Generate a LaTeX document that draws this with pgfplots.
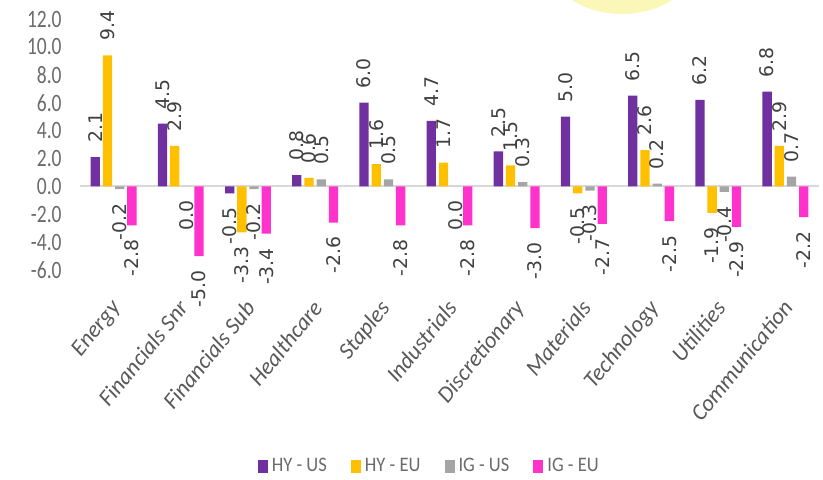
\documentclass[border=0pt]{standalone}
\usepackage{fontspec}
\usepackage{pgfplots}
\usepackage{pgfplotstable}
\pgfplotsset{compat=1.18}
\setmainfont{Carlito}
\newfontfamily\tickfont[FakeStretch=0.78]{Carlito}
\newfontfamily\legfont[FakeStretch=0.9]{Carlito}
\newfontfamily\datafont{DejaVu Sans}
\definecolor{hyus}{HTML}{7030A0}
\definecolor{hyeu}{HTML}{FFC000}
\definecolor{igus}{HTML}{A5A5A5}
\definecolor{igeu}{HTML}{FF33CC}
\definecolor{tickgrey}{HTML}{6B6B6B}
\definecolor{catgrey}{HTML}{595959}
\definecolor{datagrey}{HTML}{404040}
\definecolor{zerogrey}{HTML}{D9D9D9}
\definecolor{sunyellow}{HTML}{FBF7B8}

\pgfplotstableread{
x hyus hyeu igus igeu
0 2.1 9.4 -0.2 -2.8
1 4.5 2.9 0.0 -5.0
2 -0.5 -3.3 -0.2 -3.4
3 0.8 0.6 0.5 -2.6
4 6.0 1.6 0.5 -2.8
5 4.7 1.7 0.0 -2.8
6 2.5 1.5 0.3 -3.0
7 5.0 -0.5 -0.3 -2.7
8 6.5 2.6 0.2 -2.5
9 6.2 -1.9 -0.4 -2.9
10 6.8 2.9 0.7 -2.2
}\datatable

\begin{document}
\begin{tikzpicture}
\begin{axis}[
  scale only axis, width=369.5pt, height=125.5pt,
  xmin=-0.5, xmax=10.5, ymin=-6, ymax=12,
  axis line style={draw=none},
  major tick length=0pt,
  ytick={-6,-4,...,12},
  yticklabels={-6.0,-4.0,-2.0,0.0,2.0,4.0,6.0,8.0,10.0,12.0},
  yticklabel style={font=\tickfont\fontsize{12.5}{13}\selectfont, text=tickgrey, inner sep=0pt, xshift=-9pt},
  xtick={0,...,10},
  xticklabels={Energy,Financials Snr,Financials Sub,Healthcare,Staples,Industrials,Discretionary,Materials,Technology,Utilities,Communication},
  xticklabel style={xshift=-2pt, yshift=-14pt, rotate=51, anchor=north east, inner sep=0pt,
    font=\itshape\fontsize{11.5}{12}\selectfont, text=catgrey},
  extra y ticks={0}, extra y tick labels={},
  extra y tick style={grid=major, major grid style={draw=zerogrey, line width=1pt}},
  ybar=1.45pt, bar width=4.65pt,
  visualization depends on={rawy \as \rawy},
  nodes near coords={\pgfmathprintnumber[fixed,precision=1,zerofill,assume math mode=true]{\rawy}},
  nodes near coords style={font=\datafont\fontsize{9.4}{10}\selectfont, text=datagrey, rotate=90,
    inner xsep=7pt, inner ysep=0pt,
    anchor={\ifdim\rawy pt<0.001pt east\else west\fi}},
  legend style={at={(0.474,-0.781)}, anchor=center, draw=none, fill=none, legend columns=4,
    font=\legfont\fontsize{10.3}{12}\selectfont, text=tickgrey,
    /tikz/every even column/.append style={column sep=10pt}, inner sep=0pt},
  every axis plot post/.append style={legend image code/.code={\fill[##1] (0pt,-3.25pt) rectangle (5pt,3.25pt);}},
]
\addplot[fill=hyus, draw=none] table[x=x,y=hyus]{\datatable};
\addplot[fill=hyeu, draw=none] table[x=x,y=hyeu]{\datatable};
\addplot[fill=igus, draw=none] table[x=x,y=igus]{\datatable};
\addplot[fill=igeu, draw=none] table[x=x,y=igeu]{\datatable};
\legend{HY - US, HY - EU, IG - US, IG - EU}
\end{axis}
\fill[sunyellow] (271pt,153pt) ellipse (36pt and 25pt);
\pgfresetboundingbox
\useasboundingbox (-40pt,-105pt) rectangle (371.5pt,135pt);
\end{tikzpicture}
\end{document}
